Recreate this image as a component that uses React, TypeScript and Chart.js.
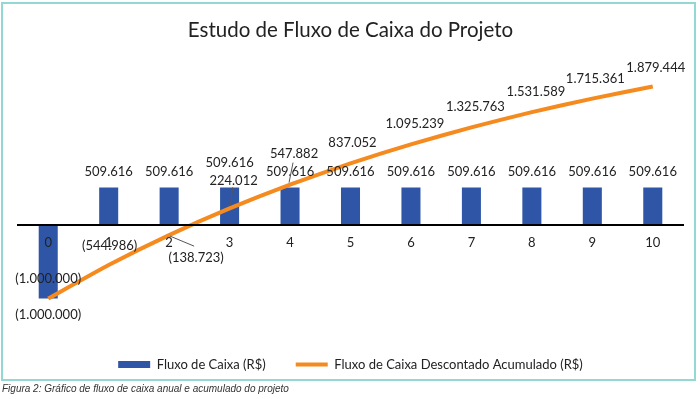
import React, { useEffect, useRef } from "react";
import { Chart, registerables } from "chart.js";

Chart.register(...registerables);

const categories: string[] = ["0", "1", "2", "3", "4", "5", "6", "7", "8", "9", "10"];
const fluxoCaixa: number[] = [-1000000, 509616, 509616, 509616, 509616, 509616, 509616, 509616, 509616, 509616, 509616];
const fluxoDescontadoAcumulado: number[] = [-1000000, -544986, -138723, 224012, 547882, 837052, 1095239, 1325763, 1531589, 1715361, 1879444];
const titleText = "Estudo de Fluxo de Caixa do Projeto";
const seriesNames: string[] = ["Fluxo de Caixa (R$)", "Fluxo de Caixa Descontado Acumulado (R$)"];
const captionText = "Figura 2: Gráfico de fluxo de caixa anual e acumulado do projeto";

// label placement (layout only)
const lineLabelOffsets: [number, number][] = [
  [0, -20], [1, -19], [27, 23], [4, -28], [4, -31], [2, -20], [4, -20], [4, -21], [4, -20], [3, -20], [3, -19],
];
const lineLeaders: (number[] | null)[] = [
  null, [1, -25, 1, -18], [1, 1, 25, 11], [1, -3, 3, -21], [-1, -2, 3, -22], null, null, null, null, null, null,
];
const barLabelOffsets: number[] = [16, -15.5, -15.5, -24.5, -15.5, -15.5, -15.5, -15.5, -15.5, -15.5, -15.5];

const BAR_COLOR = "#2f56a6";
const LINE_COLOR = "#f58a1f";
const TEXT_COLOR = "#222222";
const FONT = "Lato";

function fmt(v: number): string {
  const s = Math.round(Math.abs(v)).toString().replace(/\B(?=(\d{3})+(?!\d))/g, ".");
  return v < 0 ? `(${s})` : s;
}

const labelPlugin = {
  id: "valueLabels",
  afterDatasetsDraw(chart: any) {
    const ctx = chart.ctx;
    ctx.save();
    ctx.font = `13px ${FONT}`;
    ctx.fillStyle = TEXT_COLOR;
    ctx.textAlign = "center";
    ctx.textBaseline = "middle";
    const barMeta = chart.getDatasetMeta(0);
    barMeta.data.forEach((el: any, i: number) => {
      const v = fluxoCaixa[i];
      ctx.fillText(fmt(v), el.x, el.y + barLabelOffsets[i]);
    });
    const lineMeta = chart.getDatasetMeta(1);
    ctx.strokeStyle = "#555555";
    ctx.lineWidth = 1;
    lineMeta.data.forEach((el: any, i: number) => {
      const ld = lineLeaders[i];
      if (ld) {
        ctx.beginPath();
        ctx.moveTo(el.x + ld[0], el.y + ld[1]);
        ctx.lineTo(el.x + ld[2], el.y + ld[3]);
        ctx.stroke();
      }
    });
    lineMeta.data.forEach((el: any, i: number) => {
      const [dx, dy] = lineLabelOffsets[i];
      ctx.fillText(fmt(fluxoDescontadoAcumulado[i]), el.x + dx, el.y + dy);
    });
    ctx.restore();
  },
};

export default function App() {
  const ref = useRef<HTMLCanvasElement | null>(null);
  useEffect(() => {
    if (!ref.current) return;
    const chart = new Chart(ref.current, {
      type: "bar",
      data: {
        labels: categories,
        datasets: [
          {
            type: "bar",
            label: seriesNames[0],
            data: fluxoCaixa,
            backgroundColor: BAR_COLOR,
            borderWidth: 0,
            barPercentage: 0.315,
            categoryPercentage: 1,
            order: 1,
          },
          {
            type: "line",
            label: seriesNames[1],
            data: fluxoDescontadoAcumulado,
            borderColor: LINE_COLOR,
            backgroundColor: LINE_COLOR,
            borderWidth: 4,
            pointRadius: 0,
            tension: 0.15,
            order: 0,
          },
        ],
      } as any,
      plugins: [labelPlugin],
      options: {
        animation: false,
        responsive: false,
        maintainAspectRatio: false,
        layout: { padding: { left: 18, right: 17, top: 0, bottom: 18 } },
        scales: {
          x: {
            position: { y: 0 } as any,
            grid: { display: false, drawTicks: false },
            border: { display: true, color: "#000000", width: 2, z: 1 },
            ticks: { font: { family: FONT, size: 13 }, color: TEXT_COLOR, padding: 10, maxRotation: 0, z: 1 },
          },
          y: {
            display: false,
            min: -1400000,
            max: 2300000,
          },
        },
        plugins: {
          tooltip: { enabled: false },
          title: {
            display: true,
            text: titleText,
            color: TEXT_COLOR,
            font: { family: FONT, size: 20.5, weight: "normal" },
            padding: { top: 18, bottom: 13 },
          },
          legend: {
            display: true,
            position: "bottom",
            labels: {
              usePointStyle: true,
              pointStyleWidth: 32,
              boxWidth: 32,
              boxHeight: 7,
              padding: 30,
              color: TEXT_COLOR,
              font: { family: FONT, size: 13 },
              generateLabels: (c: any) =>
                c.data.datasets.map((ds: any, i: number) => ({
                  text: ds.label,
                  fillStyle: i === 0 ? BAR_COLOR : LINE_COLOR,
                  strokeStyle: i === 0 ? BAR_COLOR : LINE_COLOR,
                  lineWidth: i === 0 ? 0 : 4,
                  pointStyle: i === 0 ? "rect" : "line",
                  fontColor: TEXT_COLOR,
                  hidden: false,
                  datasetIndex: i,
                })),
            },
          },
        },
      } as any,
    });
    return () => chart.destroy();
  }, []);

  return (
    <div style={{ position: "absolute", left: 0, top: 0, width: 700, height: 399, background: "#ffffff", overflow: "hidden" }}>
      <div
        style={{
          position: "absolute",
          left: 1,
          top: 2,
          width: 695,
          height: 379,
          boxSizing: "border-box",
          border: "2px solid #93d8d2",
        }}
      />
      <canvas ref={ref} width={700} height={399} style={{ position: "absolute", left: 0, top: 0, width: 700, height: 399 }} />
      <div
        style={{
          position: "absolute",
          left: 2,
          top: 382,
          fontFamily: "'Liberation Sans', Arial, sans-serif",
          fontStyle: "italic",
          fontSize: 10,
          lineHeight: "13px",
          color: "#333333",
          whiteSpace: "nowrap",
        }}
      >
        {captionText}
      </div>
    </div>
  );
}
